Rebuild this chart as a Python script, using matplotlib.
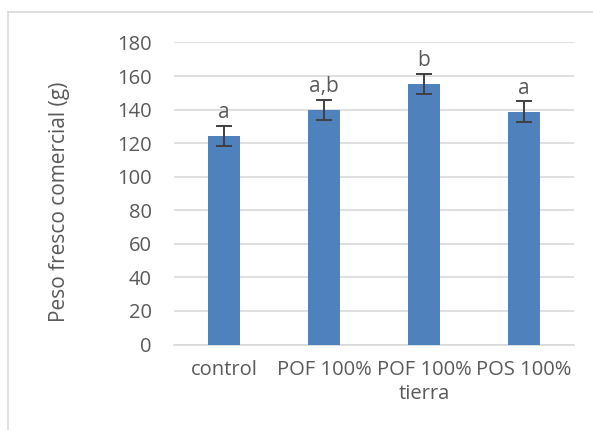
import matplotlib.pyplot as plt
from matplotlib.lines import Line2D

# Tratamientos y peso fresco comercial medio (g)
tratamientos = ['control', 'POF 100%', 'POF 100%\ntierra', 'POS 100%']
peso = [124.3, 139.7, 155.2, 138.6]
error = [6.1, 6.0, 6.0, 6.3]
letras = ['a', 'a,b', 'b', 'a']

texto = '#595959'
plt.rcParams['font.family'] = ['Open Sans', 'DejaVu Sans']

fig = plt.figure(figsize=(5.93, 4.30), dpi=100)
ax = fig.add_axes([0.2934, 0.1988, 0.6746, 0.7025])

x = range(len(tratamientos))
ax.bar(x, peso, width=0.32, color='#4f81bd', zorder=3)
ax.errorbar(x, peso, yerr=error, fmt='none', ecolor='#404040',
            elinewidth=1.4, capsize=5.5, capthick=1.4, zorder=4)

for i, (v, e, l) in enumerate(zip(peso, error, letras)):
    ax.text(i, v + e + 1.5, l, ha='center', va='bottom', fontsize=15, color=texto)

ax.set_xlim(-0.5, 3.5)
ax.set_ylim(0, 180)
ax.set_yticks(range(0, 181, 20))
ax.set_xticks(list(x))
ax.set_xticklabels(tratamientos, va='top', linespacing=1.3)
ax.yaxis.grid(True, color='#d9d9d9', linewidth=1.2, zorder=0)
ax.tick_params(axis='both', length=0, labelsize=14.5, labelcolor=texto)
ax.tick_params(axis='x', pad=11)
ax.tick_params(axis='y', pad=16)
for s in ['top', 'right', 'left']:
    ax.spines[s].set_visible(False)
ax.spines['bottom'].set_color('#d9d9d9')
ax.spines['bottom'].set_linewidth(1.2)

fig.text(0.0995, 0.530, 'Peso fresco comercial (g)', rotation=90, ha='center',
         va='center', fontsize=15, color=texto)

# marco exterior del gráfico
fig.add_artist(Line2D([8 / 593, 8 / 593], [0, 1 - 12 / 430], color='#d9d9d9', lw=1.2))
fig.add_artist(Line2D([8 / 593, 1], [1 - 12 / 430, 1 - 12 / 430], color='#d9d9d9', lw=1.2))

fig.savefig('out.png', dpi=100)
